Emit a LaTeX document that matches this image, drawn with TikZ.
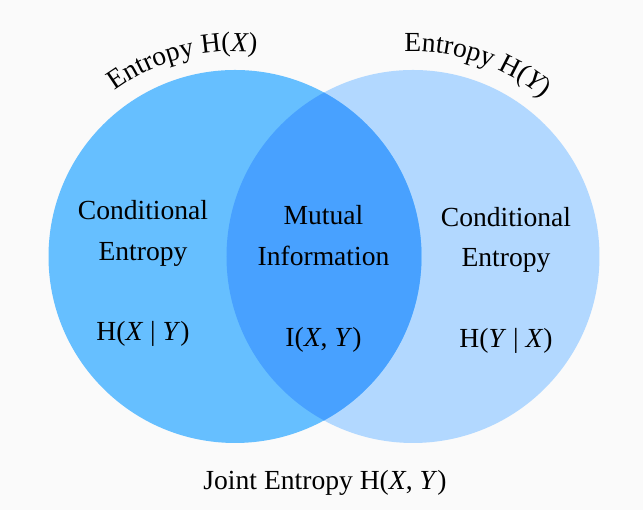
\documentclass[tikz,border=0pt]{standalone}
\usepackage{fontspec}
\setmainfont{Liberation Serif}
\usepackage{tikz}
\usetikzlibrary{decorations.text}

\definecolor{bgc}{HTML}{FAFAFA}
\definecolor{hxc}{HTML}{66BFFF}
\definecolor{hyc}{HTML}{B2D8FF}
\definecolor{ixyc}{HTML}{48A1FF}
\newcommand{\lblfont}{\fontsize{15.7}{18}\selectfont}

\tikzset{
  lbl/.style = {font=\lblfont, anchor=base, inner sep=0pt},
  arclbl/.style = {decorate, decoration={text along path, text align=center, text={#1}}}
}

\begin{document}
\begin{tikzpicture}
 \useasboundingbox (0,0) rectangle (12.86,10.2);
 \fill[bgc] (0,0) rectangle (12.86,10.2);
 \coordinate (cx) at (4.70,5.07);
 \coordinate (cy) at (8.26,5.07);
  \fill[hyc] (cy) circle (3.73);
  \fill[hxc] (cx) circle (3.73);
  \begin{scope}
   \clip (cx) circle (3.73);
   \fill[ixyc] (cy) circle (3.73);
  \end{scope}
\path[arclbl={|\lblfont|Entropy H(|+\itshape|X|\lblfont|)}] (cx) ++(140:4.1) arc[start angle=140, end angle=70, radius=4.1];
\path[arclbl={|\lblfont|Entropy H(|+\itshape|Y|\lblfont|)}] (cy) ++(107:4.1) arc[start angle=107, end angle=36, radius=4.1];
% left part
\node[lbl] (condx) at (2.86,5.80) {Conditional};
\node[lbl] (entx) at (2.86,4.98) {Entropy};
\node[lbl] (hxgy) at (2.86,3.38) {H(\textit{X} | \textit{Y})};
% overlap
\node[lbl] (mut) at (6.47,5.70) {Mutual};
\node[lbl] (info) at (6.47,4.88) {Information};
\node[lbl] (ixy) at (6.47,3.26) {I(\textit{X}, \textit{Y})};
% right part
\node[lbl] (condy) at (10.12,5.66) {Conditional};
\node[lbl] (enty) at (10.12,4.86) {Entropy};
\node[lbl] (hygx) at (10.12,3.24) {H(\textit{Y} | \textit{X})};
\node[lbl] (joint) at (6.50,0.40) {Joint Entropy H(\textit{X}, \textit{Y})};
\end{tikzpicture}
\end{document}
